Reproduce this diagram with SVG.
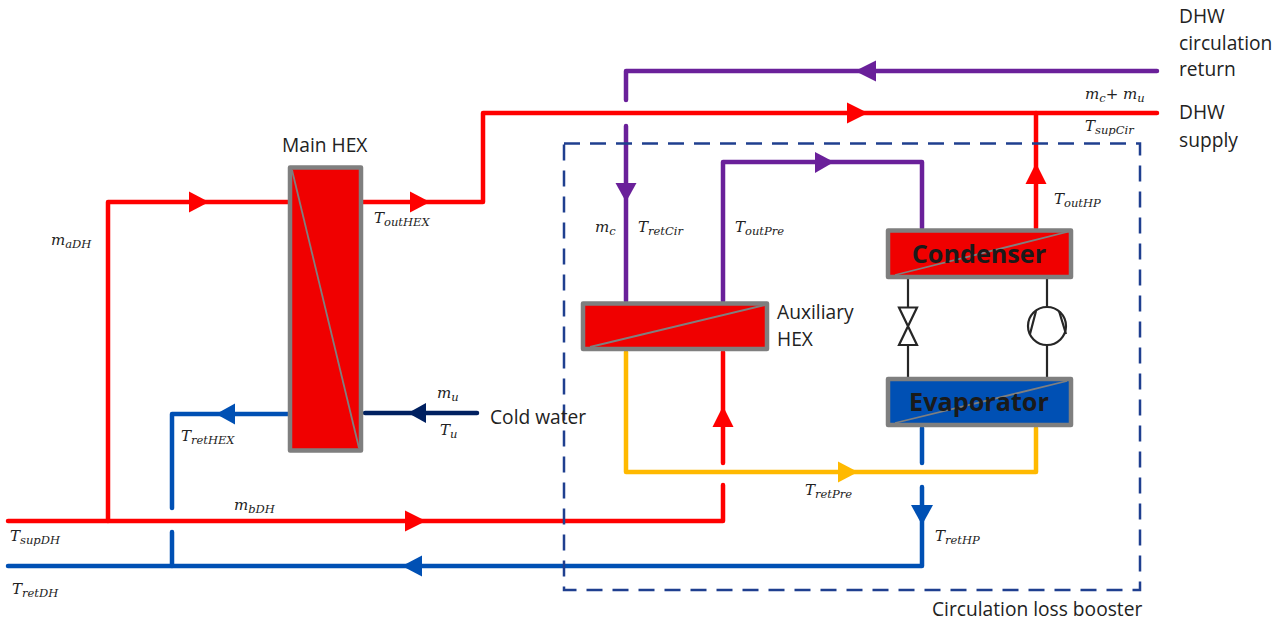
<svg xmlns="http://www.w3.org/2000/svg" width="1285" height="624" viewBox="0 0 1285 624">
<style>
.p{fill:none;stroke-width:4.5;stroke-linejoin:round;stroke-linecap:round}
.red{stroke:#ff0000}.blue{stroke:#0050b4}.pur{stroke:#6a209a}.yel{stroke:#ffb900}.navy{stroke:#002060}
.hx{stroke:#7f7f7f;stroke-width:4.5;stroke-linejoin:round}
.dg{stroke:#7f7f7f;stroke-width:1.8}
.k{stroke:#262626;stroke-width:2.2;fill:none}
.t{font-family:"Open Sans","Noto Sans",sans-serif;font-size:19.2px;fill:#222}
.b{font-family:"Open Sans","Noto Sans",sans-serif;font-size:25.2px;font-weight:700;fill:#1a1a1a;text-anchor:middle}
.m{font-family:"DejaVu Serif","Liberation Serif",serif;font-style:italic;font-size:15px;fill:#222}
.s{font-size:11.5px}
</style>
<g id="connectors">
<path class="p pur" d="M1157 71H626V100M626 126V301"/>
<path class="p red" d="M1157 113H483V202H363"/>
<path class="p red" d="M288 202H108V521"/>
<path class="p red" d="M8 521H723V485M723 463V352"/>
<path class="p blue" d="M8 566H922V487M922 463V428"/>
<path class="p blue" d="M172 566V532M172 508V414H288"/>
<path class="p yel" d="M626 352V472H1036V428"/>
<path class="p red" d="M1036 113V228"/>
<path class="p pur" d="M723 301V162H922V228"/>
<path class="p navy" d="M365 413H477"/>
<polygon fill="#6a209a" points="855,71 876,60.500 876,81.500"/>
<polygon fill="#ff0000" points="868,113 847,102.500 847,123.500"/>
<polygon fill="#ff0000" points="430,202 410,191.500 410,212.500"/>
<polygon fill="#ff0000" points="209,202 189,191.500 189,212.500"/>
<polygon fill="#ff0000" points="426,521 405,510.500 405,531.500"/>
<polygon fill="#ff0000" points="723,406 712.500,427 733.500,427"/>
<polygon fill="#ff0000" points="1036,163 1025.500,184 1046.500,184"/>
<polygon fill="#6a209a" points="626,202 615.500,183 636.500,183"/>
<polygon fill="#6a209a" points="834,162 815,152 815,173"/>
<polygon fill="#0050b4" points="216,414 235,403.500 235,424.500"/>
<polygon fill="#0050b4" points="402,566 422,555.500 422,576.500"/>
<polygon fill="#0050b4" points="922,525 911,505 933,505"/>
<polygon fill="#ffb900" points="858,472 838,461.500 838,482.500"/>
<polygon fill="#002060" points="408,413 426,403 426,423"/>
<path class="k" d="M908 279V307M908 345V377M1047 279V307M1047 345V377"/>
</g>
<g id="booster"><rect x="564" y="143.500" width="576" height="446.500" fill="none" stroke="#1f3f8f" stroke-width="2.500" stroke-dasharray="16 10"/>
<text class="t" x="932" y="616">Circulation loss booster</text></g>
<g id="main-hex"><rect class="hx" x="290" y="167.500" width="71" height="283" fill="#f00000"/><path class="dg" d="M292 170L359 448"/>
<text class="t" x="282" y="152">Main HEX</text></g>
<g id="aux-hex"><rect class="hx" x="583" y="303.500" width="184" height="45.500" fill="#f00000"/><path class="dg" d="M590 347L765 305"/>
<text class="t" x="777" y="319">Auxiliary</text><text class="t" x="777" y="346">HEX</text></g>
<g id="condenser"><rect class="hx" x="888" y="230.500" width="183" height="46.500" fill="#f00000"/><path class="dg" d="M895 275L1067 232"/>
<text class="b" x="979" y="263">Condenser</text></g>
<g id="evaporator"><rect class="hx" x="888" y="379" width="183" height="46" fill="#0050b4"/><path class="dg" d="M895 423L1067 381"/>
<text class="b" x="979" y="411">Evaporator</text></g>
<g id="valve"><path class="k" d="M899 307.500H917L899 345H917Z"/></g>
<g id="compressor"><circle class="k" cx="1047" cy="326" r="19"/><path class="k" d="M1036 311L1030 334M1059 311L1066 334"/></g>
<g id="labels">
<text class="t" x="1179" y="23">DHW</text><text class="t" x="1179" y="50">circulation</text><text class="t" x="1179" y="76">return</text>
<text class="t" x="1179" y="119">DHW</text><text class="t" x="1179" y="147">supply</text>
<text class="t" x="490" y="424">Cold water</text>
<text class="m" x="51" y="245">m<tspan class="s" dy="3">aDH</tspan></text>
<text class="m" x="374" y="223">T<tspan class="s" dy="3">outHEX</tspan></text>
<text class="m" x="181" y="441">T<tspan class="s" dy="3">retHEX</tspan></text>
<text class="m" x="437" y="398">m<tspan class="s" dy="3">u</tspan></text>
<text class="m" x="440" y="435">T<tspan class="s" dy="3">u</tspan></text>
<text class="m" x="234" y="510">m<tspan class="s" dy="3">bDH</tspan></text>
<text class="m" x="10" y="541">T<tspan class="s" dy="3">supDH</tspan></text>
<text class="m" x="12" y="594">T<tspan class="s" dy="3">retDH</tspan></text>
<text class="m" x="595" y="232">m<tspan class="s" dy="3">c</tspan></text>
<text class="m" x="638" y="232">T<tspan class="s" dy="3">retCir</tspan></text>
<text class="m" x="735" y="232">T<tspan class="s" dy="3">outPre</tspan></text>
<text class="m" x="1054" y="204">T<tspan class="s" dy="3">outHP</tspan></text>
<text class="m" x="1085" y="99">m<tspan class="s" dy="3">c</tspan><tspan dy="-3">+ m</tspan><tspan class="s" dy="3">u</tspan></text>
<text class="m" x="1085" y="131">T<tspan class="s" dy="3">supCir</tspan></text>
<text class="m" x="805" y="495">T<tspan class="s" dy="3">retPre</tspan></text>
<text class="m" x="935" y="541">T<tspan class="s" dy="3">retHP</tspan></text>
</g>
</svg>
